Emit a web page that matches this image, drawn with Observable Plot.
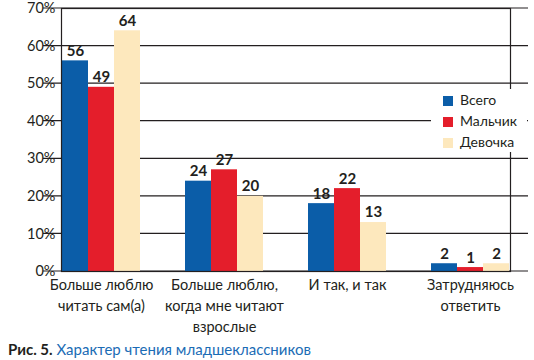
<!DOCTYPE html>
<html>
<head>
<meta charset="utf-8">
<script src="https://cdn.jsdelivr.net/npm/d3@7"></script>
<script src="https://cdn.jsdelivr.net/npm/@observablehq/plot@0.6"></script>
<style>
  html, body { margin: 0; padding: 0; background: #fff; }
  #wrap { position: relative; width: 534px; font-family: Lato, "Open Sans", sans-serif; color: #231f20; }
  #legend { position: absolute; left: 431px; top: 89px; width: 96px; height: 63px; background: #fff; font-size: 14px; }
  #legend .row { position: absolute; left: 12px; height: 20px; line-height: 20px; white-space: nowrap; }
  #legend .sw { display: inline-block; width: 10px; height: 10px; margin-right: 7px; vertical-align: -1px; }
  #caption { font-size: 15px; margin: 0 0 0 8px; line-height: 18px; }
  #caption b { color: #231f20; }
  #caption span { color: #1b6cb5; }
</style>
</head>
<body>
<div id="wrap">
  <div id="chart"></div>
  <div id="legend"></div>
  <div id="caption"><b>Рис. 5.</b> <span>Характер чтения младшеклассников</span></div>
</div>
<script>
const categories = [
  "Больше люблю\nчитать сам(а)",
  "Больше люблю,\nкогда мне читают\nвзрослые",
  "И так, и так",
  "Затрудняюсь\nответить"
];
const series = ["Всего", "Мальчик", "Девочка"];
const vsego = [56, 24, 18, 2];
const malchik = [49, 27, 22, 1];
const devochka = [64, 20, 13, 2];
const yTicks = [0, 10, 20, 30, 40, 50, 60, 70];
const colors = ["#0b5da8", "#e41e2b", "#fde8bd"];

const values = [vsego, malchik, devochka];
const data = [];
categories.forEach((c, i) => {
  series.forEach((s, j) => data.push({cat: c, series: s, value: values[j][i]}));
});

const W = 534, H = 340, ML = 43, MR = 6, MT = 8, MB = 69;

const chart = Plot.plot({
  width: W,
  height: H,
  marginLeft: ML,
  marginRight: MR,
  marginTop: MT,
  marginBottom: MB,
  style: {fontFamily: "Lato, 'Open Sans', sans-serif", fontSize: "14.5px", color: "#231f20", background: "#fff", overflow: "visible"},
  fx: {domain: categories, paddingInner: 0.35, paddingOuter: 0.14, label: null},
  x: {domain: series, padding: 0, axis: null},
  y: {domain: [0, 70], label: null},
  color: {domain: series, range: colors},
  marks: [
    Plot.barY(data, {fx: "cat", x: "series", y: "value", fill: "series"}),
    Plot.text(data, {fx: "cat", x: "series", y: "value", text: d => String(d.value), dy: -10, fontWeight: "bold", fontSize: 15, fill: "#231f20"}),
    Plot.frame({stroke: "#231f20", strokeWidth: 1.2, facet: "super"}),
    Plot.axisY(yTicks, {tickFormat: d => d + "%", tickSize: 0, tickPadding: 6, label: null, fontSize: 14.5}),
    Plot.axisFx({anchor: "bottom", tickSize: 0, tickPadding: 4, label: null, lineHeight: 1.45, fontSize: 14.5})
  ]
});
document.getElementById("chart").appendChild(chart);

// continuous gridlines across the whole frame, positioned with Plot's own y scale
const ys = chart.scale("y");
const yPos = d3.scaleLinear().domain(ys.domain).range(ys.range);
const grid = d3.select(chart).append("g").attr("aria-label", "grid");
grid.selectAll("line").data(yTicks).join("line")
  .attr("x1", ML).attr("x2", W - MR)
  .attr("y1", d => yPos(d)).attr("y2", d => yPos(d))
  .attr("stroke", "#231f20").attr("stroke-width", 1.2);

// place grid after the bar layer, then redraw the bar rectangles above it so bars cover the lines
const barG = chart.querySelector(":scope > g[aria-label='bar']");
const textG = chart.querySelector(":scope > g[aria-label='text']");
if (barG && textG) {
  chart.insertBefore(grid.node(), textG);
  const clone = barG.cloneNode(true);
  clone.setAttribute("aria-label", "bar-top");
  const cols = colors.map(c => c.toLowerCase());
  clone.querySelectorAll("rect").forEach(r => {
    const f = (r.getAttribute("fill") || "").toLowerCase();
    if (!cols.includes(f)) r.remove();
  });
  chart.insertBefore(clone, textG);
}

const legend = document.getElementById("legend");
series.forEach((s, i) => {
  const row = document.createElement("div");
  row.className = "row";
  row.style.top = (1 + i * 21) + "px";
  row.innerHTML = `<span class="sw" style="background:${colors[i]}"></span>${s}`;
  legend.appendChild(row);
});
</script>
</body>
</html>
